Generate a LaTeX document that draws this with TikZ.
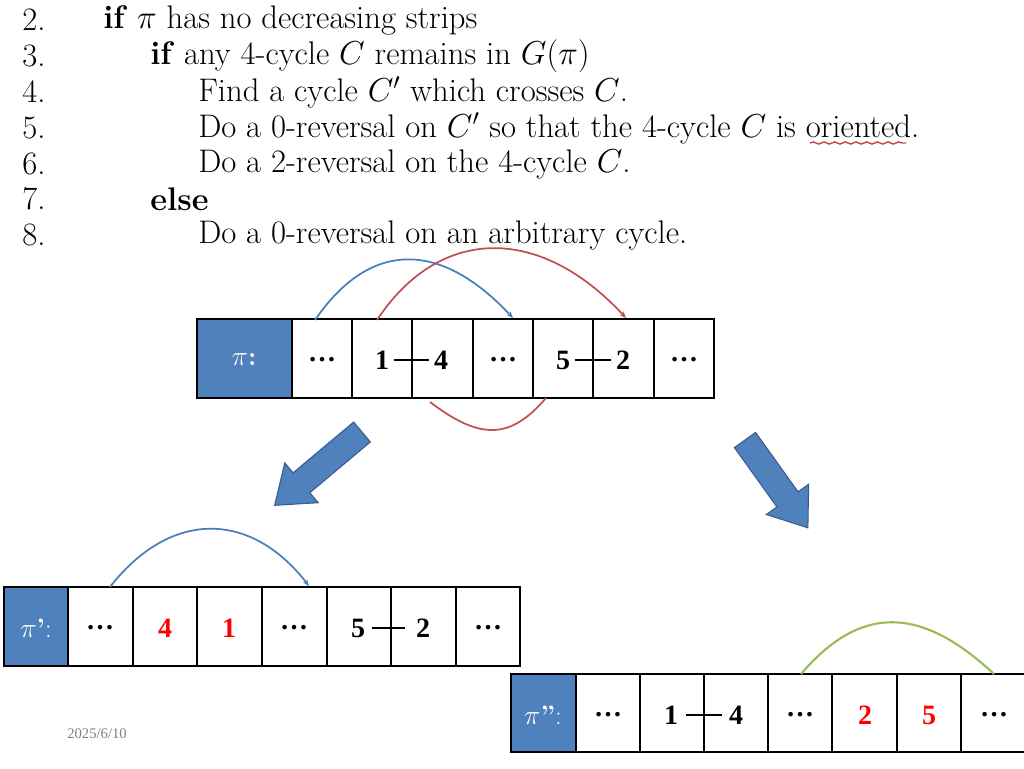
\documentclass[tikz,border=0pt]{standalone}
\usepackage{fontspec}
\newfontfamily\tnr{Liberation Serif}
\usetikzlibrary{decorations.pathmorphing,arrows.meta}
\definecolor{pblue}{RGB}{79,129,189}
\definecolor{pdark}{RGB}{56,93,138}
\definecolor{cblue}{RGB}{74,126,187}
\definecolor{cred}{RGB}{192,80,77}
\definecolor{cgreen}{RGB}{155,187,89}
\tikzset{
 cell/.style={draw=black,line width=0.9pt},
 lab/.style={cell,fill=pblue},
 algo/.style={anchor=west,inner sep=0pt,font=\fontsize{24.5}{26}\selectfont},
 num/.style={font=\tnr\bfseries\fontsize{21}{22}\selectfont},
 rnum/.style={num,text=red},
 labt/.style={text=white,font=\fontsize{20}{22}\selectfont},
 link/.style={line width=1.3pt},
 arc/.style={line width=1.3pt,-{Stealth[length=5pt,width=4pt]}},
 bigarrow/.style={fill=pblue,draw=pdark,line width=0.8pt},
}
\begin{document}
\begin{tikzpicture}[x=0.75pt,y=-0.75pt]
\useasboundingbox (0,0) rectangle (1024,768);
% algorithm text
\foreach \n/\y in {2/20,3/56,4/92,5/128,6/164,7/199,8/235}
  \node[algo] (n\n) at (22,\y) {\n.};
\node[algo] (l2) at (103,20) {\textbf{if} $\pi$ has no decreasing strips};
\node[algo] (l3) at (150,56) {\textbf{if} any 4-cycle $C$ remains in $G(\pi)$};
\node[algo] (l4) at (198,92) {Find a cycle $C'$ which crosses $C$.};
\node[algo] (l5) at (198,128) {Do a 0-reversal on $C'$ so that the 4-cycle $C$ is oriented.};
\node[algo] (l6) at (198,164) {Do a 2-reversal on the 4-cycle $C$.};
\node[algo] (l7) at (150,199) {\textbf{else}};
\node[algo] (l8) at (198,235) {Do a 0-reversal on an arbitrary cycle.};
\coordinate (w1) at (810,143); \coordinate (w2) at (906,143);
\draw[cred,line width=1.1pt,decorate,decoration={snake,amplitude=0.8pt,segment length=8pt}] (w1) -- (w2);
% table 1
\draw[lab] (197,319) rectangle (292,398);
\foreach \a/\b in {292/352,352/412,412/473,473/533,533/593,593/654,654/714}
  \draw[cell] (\a,319) rectangle (\b,398);
\node[labt] (t1) at (244,360) {$\pi$\textbf{:}};
\node[num] (a1) at (322,360) {\dots};
\node[num] (a2) at (382,360) {1};
\node[num] (a3) at (441,360) {4};
\node[num] (a4) at (503,360) {\dots};
\node[num] (a5) at (563,360) {5};
\node[num] (a6) at (623,360) {2};
\node[num] (a7) at (684,360) {\dots};
\draw[link] (a2.east) -- (a3.west);
\draw[link] (a5.east) -- (a6.west);
\coordinate (b1s) at (315,320); \coordinate (b1e) at (513,318);
\draw[arc,cblue] (b1s) .. controls (370,240) and (440,240) .. (b1e);
\coordinate (r1s) at (377,320); \coordinate (r1e) at (626,318);
\draw[arc,cred] (r1s) .. controls (440,225) and (540,225) .. (r1e);
\coordinate (r2s) at (430,402); \coordinate (r2e) at (546,398);
\draw[cred,line width=1.3pt] (r2s) .. controls (480,440) and (510,440) .. (r2e);
% arrows
\begin{scope}[shift={(362,432)},rotate=220]
\draw[bigarrow] (0,-13) -- (79,-13) -- (79,-26) -- (114,0) -- (79,26) -- (79,13) -- (0,13) -- cycle;
\end{scope}
\begin{scope}[shift={(745,440)},rotate=-54.4]
\draw[bigarrow] (0,-13) -- (73,-13) -- (73,-26) -- (108,0) -- (73,26) -- (73,13) -- (0,13) -- cycle;
\end{scope}
% table 2
\draw[lab] (4,587) rectangle (68,666);
\foreach \a/\b in {68/133,133/197,197/262,262/327,327/391,391/456,456/520}
  \draw[cell] (\a,587) rectangle (\b,666);
\node[labt] (t2) at (36,628) {$\pi$\textbf{'}:};
\node[num] (c1) at (100,628) {\dots};
\node[rnum] (c2) at (165,628) {4};
\node[rnum] (c3) at (229,628) {1};
\node[num] (c4) at (294,628) {\dots};
\node[num] (c5) at (358,628) {5};
\node[num] (c6) at (423,628) {2};
\node[num] (c7) at (488,628) {\dots};
\draw[link] (372,628) -- (405,628);
\coordinate (b2s) at (110,587); \coordinate (b2e) at (309,586);
\draw[arc,cblue] (b2s) .. controls (170,510) and (250,510) .. (b2e);
% table 3
\draw[lab] (511,674) rectangle (576,752);
\foreach \a/\b in {576/640,640/704,704/768,768/832,832/897,897/961,961/1030}
  \draw[cell] (\a,674) rectangle (\b,752);
\node[labt] (t3) at (543,715) {$\pi$\textbf{''}:};
\node[num] (d1) at (608,715) {\dots};
\node[num] (d2) at (671,715) {1};
\node[num] (d3) at (736,715) {4};
\node[num] (d4) at (800,715) {\dots};
\node[rnum] (d5) at (865,715) {2};
\node[rnum] (d6) at (929,715) {5};
\node[num] (d7) at (994,715) {\dots};
\draw[link] (686,715) -- (722,715);
\coordinate (g1) at (801,674); \coordinate (g2) at (994,674);
\draw[cgreen,line width=1.6pt] (g1) .. controls (860,605) and (920,605) .. (g2);
\node[text=gray,font=\tnr\fontsize{11}{12}\selectfont] (date) at (97,734) {2025/6/10};
\end{tikzpicture}
\end{document}
